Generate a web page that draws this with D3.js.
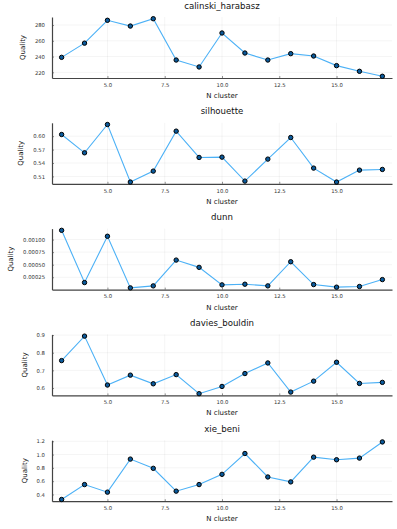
<!DOCTYPE html>
<html>
<head>
<meta charset="utf-8">
<script src="https://cdn.jsdelivr.net/npm/d3@7"></script>
<style>
  body { margin: 0; background: #fff; }
  svg { display: block; font-family: "DejaVu Sans", sans-serif; }
</style>
</head>
<body>
<svg id="canvas" width="397" height="529"></svg>
<script>
// data
let nCluster = [3, 4, 5, 6, 7, 8, 9, 10, 11, 12, 13, 14, 15, 16, 17]

let calinski = [239, 257, 286, 278.7, 288, 235.6, 226.8, 269.9, 244.5, 235.6, 243.7, 240.7, 228.5, 221.3, 215]
let silhouette = [0.6037, 0.5628, 0.626, 0.4974, 0.5219, 0.6112, 0.5524, 0.5531, 0.4996, 0.5487, 0.597, 0.5286, 0.4974, 0.5241, 0.5256]
let dunn = [0.001184, 0.000145, 0.001066, 0.000039, 0.000079, 0.000592, 0.000447, 0.000099, 0.000112, 0.000079, 0.000559, 0.000105, 0.000053, 0.000066, 0.000204]
let daviesBouldin = [0.7555, 0.894, 0.617, 0.673, 0.624, 0.676, 0.568, 0.609, 0.682, 0.742, 0.577, 0.639, 0.746, 0.626, 0.632]
let xieBeni = [0.325, 0.549, 0.435, 0.932, 0.793, 0.45, 0.549, 0.703, 1.016, 0.663, 0.589, 0.961, 0.922, 0.947, 1.19]

let titles = ['calinski_harabasz', 'silhouette', 'dunn', 'davies_bouldin', 'xie_beni']

let xTicks = [5, 7.5, 10, 12.5, 15]
let xTickLabels = ['5.0', '7.5', '10.0', '12.5', '15.0']

let yTicks = [
    [220, 240, 260, 280],
    [0.51, 0.54, 0.57, 0.60],
    [0.00025, 0.0005, 0.00075, 0.001],
    [0.6, 0.7, 0.8, 0.9],
    [0.4, 0.6, 0.8, 1.0, 1.2]
]
let yTickLabels = [
    ['220', '240', '260', '280'],
    ['0.51', '0.54', '0.57', '0.60'],
    ['0.00025', '0.00050', '0.00075', '0.00100'],
    ['0.6', '0.7', '0.8', '0.9'],
    ['0.4', '0.6', '0.8', '1.0', '1.2']
]

let series = [calinski, silhouette, dunn, daviesBouldin, xieBeni]

let canvas = d3.select('#canvas')

let panelH = 529 / 5
let plotL = 52, plotR = 392
let plotT = 17, plotB = 78

// Plots.jl style 3% padding around the data
let padded = (ext) => {
    let d = (ext[1] - ext[0]) * 0.03
    return [ext[0] - d, ext[1] + d]
}

let xScale = d3.scaleLinear()
    .domain(padded(d3.extent(nCluster)))
    .range([plotL, plotR])

let drawPanel = (i) => {
    let vals = series[i]
    let g = canvas.append('g').attr('transform', 'translate(0,' + (i * panelH) + ')')

    let yScale = d3.scaleLinear()
        .domain(padded(d3.extent(vals)))
        .range([plotB, plotT])

    // grid
    g.selectAll('.gx').data(xTicks).enter().append('line')
        .attr('x1', d => xScale(d)).attr('x2', d => xScale(d))
        .attr('y1', plotT).attr('y2', plotB)
        .attr('stroke', '#000').attr('stroke-opacity', 0.08).attr('stroke-width', 0.6)
    g.selectAll('.gy').data(yTicks[i]).enter().append('line')
        .attr('x1', plotL).attr('x2', plotR)
        .attr('y1', d => yScale(d)).attr('y2', d => yScale(d))
        .attr('stroke', '#000').attr('stroke-opacity', 0.08).attr('stroke-width', 0.6)

    // axes
    let xAxis = d3.axisBottom(xScale)
        .tickValues(xTicks)
        .tickFormat((d, k) => xTickLabels[k])
        .tickSizeInner(-2).tickSizeOuter(0).tickPadding(5)
    let yAxis = d3.axisLeft(yScale)
        .tickValues(yTicks[i])
        .tickFormat((d, k) => yTickLabels[i][k])
        .tickSizeInner(-2).tickSizeOuter(0).tickPadding(7)

    let gx = g.append('g').attr('transform', 'translate(0,' + plotB + ')').call(xAxis)
    let gy = g.append('g').attr('transform', 'translate(' + plotL + ',0)').call(yAxis)
    ;[gx, gy].forEach(a => {
        a.select('.domain').attr('stroke', '#444').attr('stroke-width', 1.2)
        a.selectAll('.tick line').attr('stroke', '#444').attr('stroke-width', 0.6)
        a.selectAll('text').attr('font-size', 5.3).attr('fill', '#333').attr('font-family', '"DejaVu Sans", sans-serif')
    })

    // labels
    g.append('text')
        .attr('x', (plotL + plotR) / 2).attr('y', 5.5)
        .attr('text-anchor', 'middle').attr('dominant-baseline', 'central')
        .attr('font-size', 8.6).attr('fill', '#111')
        .text(titles[i])
    g.append('text')
        .attr('x', (plotL + plotR) / 2).attr('y', 96)
        .attr('text-anchor', 'middle').attr('dominant-baseline', 'central')
        .attr('font-size', 7).attr('fill', '#111')
        .text('N cluster')
    let labelW = d3.max(gy.selectAll('text').nodes(), n => n.getComputedTextLength())
    g.append('text')
        .attr('transform', 'translate(' + (plotL - 7 - labelW - 12) + ',' + ((plotT + plotB) / 2) + ') rotate(-90)')
        .attr('text-anchor', 'middle').attr('dominant-baseline', 'central')
        .attr('font-size', 7).attr('fill', '#111')
        .text('Quality')

    // line + markers
    let line = d3.line()
        .x((d, k) => xScale(nCluster[k]))
        .y(d => yScale(d))
    g.append('path')
        .datum(vals)
        .attr('d', line)
        .attr('fill', 'none')
        .attr('stroke', '#4cb1f6')
        .attr('stroke-width', 1.1)
    g.selectAll('circle').data(vals).enter().append('circle')
        .attr('cx', (d, k) => xScale(nCluster[k]))
        .attr('cy', d => yScale(d))
        .attr('r', 2.2)
        .attr('fill', '#0a5a9c')
        .attr('stroke', '#000')
        .attr('stroke-width', 1)
}

titles.forEach((t, i) => drawPanel(i))
</script>
</body>
</html>
